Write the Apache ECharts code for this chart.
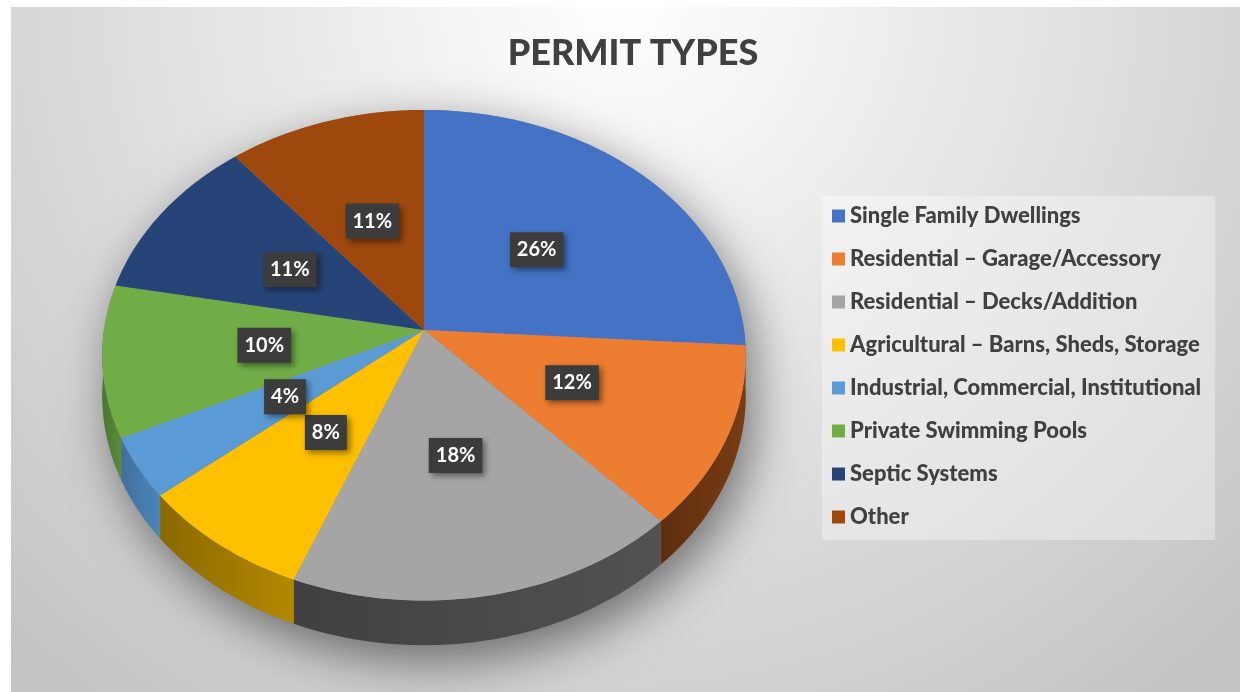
<!DOCTYPE html>
<html>
<head>
<meta charset="utf-8">
<script src="https://cdn.jsdelivr.net/npm/echarts@6/dist/echarts.min.js"></script>
<style>html,body{margin:0;padding:0;background:#fff}#c{width:1240px;height:692px}</style>
</head>
<body>
<div id="c"></div>
<script>
const categories = ['Single Family Dwellings','Residential – Garage/Accessory','Residential – Decks/Addition','Agricultural – Barns, Sheds, Storage','Industrial, Commercial, Institutional','Private Swimming Pools','Septic Systems','Other'];
const values = [26, 12, 18, 8, 4, 10, 11, 11];
const colors = ['#4472c4','#ed7d31','#a5a5a5','#ffc000','#5b9bd5','#70ad47','#264478','#9e480e'];
const sideLight = ['#3a64ad','#7a3c14','#525252','#b38800','#4d86ba','#5a8c39','#1f3a66','#7d3a0b'];
const sideDark  = ['#2f5597','#5e2e0e','#404040','#8a6900','#3f6f9c','#4a7630','#1a3055','#6e320a'];

const FONT = 'Lato, "Open Sans", sans-serif';
const total = values.reduce((a, b) => a + b, 0);
const starts = [];
let acc = 0;
values.forEach(v => { starts.push(acc / total); acc += v; });

// projection geometry (layout)
const CX = 424, CY = 330, RX = 320, RY = 242.7, P = 0.103, DEPTH = 40;
function proj(u, v, h) {
  const s = 1 / (1 - P * v);
  return [CX + RX * u * s, CY + (RY * v + DEPTH * h) * s];
}
function ang(phi, r, h) { return proj(r * Math.sin(phi), -r * Math.cos(phi), h); }
function arc(a, b, h, rev) {
  const n = Math.max(2, Math.ceil((b - a) / 0.02));
  const pts = [];
  for (let i = 0; i <= n; i++) {
    const t = a + (b - a) * i / n;
    pts.push(ang(t, 1, h));
  }
  return rev ? pts.reverse() : pts;
}

function renderItem(params, api) {
  const idx = params.seriesIndex;
  const a = api.value(0) * Math.PI * 2;
  const b = api.value(1) * Math.PI * 2;
  const children = [];
  if (idx === 0) {
    const pts = [];
    for (let i = 0; i <= 360; i++) {
      const t = i / 360 * Math.PI * 2;
      const v = -Math.cos(t);
      pts.push(ang(t, 1, v >= 0 ? 1 : 0));
    }
    children.push({
      type: 'polygon', z2: -5, shape: { points: pts },
      style: { fill: '#8a8a8a', shadowBlur: 50, shadowColor: 'rgba(0,0,0,0.5)', shadowOffsetX: 8, shadowOffsetY: 16 }
    });
  }
  const sa = Math.max(a, Math.PI / 2), sb = Math.min(b, Math.PI * 1.5);
  if (sb > sa) {
    const pts = arc(sa, sb, 0, false).concat(arc(sa, sb, 1, true));
    children.push({
      type: 'polygon', z2: 0, shape: { points: pts },
      style: { fill: new echarts.graphic.LinearGradient(1, 0, 0, 0, [
        { offset: 0, color: sideLight[idx] }, { offset: 1, color: sideDark[idx] }]) }
    });
  }
  const top = [proj(0, 0, 0)].concat(arc(a, b, 0, false));
  children.push({ type: 'polygon', z2: 10, shape: { points: top }, style: { fill: colors[idx] } });
  const mid = (a + b) / 2;
  const lp = ang(mid, 0.5, 0);
  const pct = Math.round(values[idx] / total * 100) + '%';
  children.push({
    type: 'text', z2: 20, x: lp[0], y: lp[1],
    style: {
      text: pct, fill: '#ffffff', font: 'bold 20px ' + FONT,
      align: 'center', verticalAlign: 'middle',
      backgroundColor: '#3c3c3c', padding: [8, 7, 7, 7],
      shadowBlur: 6, shadowColor: 'rgba(0,0,0,0.45)', shadowOffsetX: 3, shadowOffsetY: 3
    }
  });
  return { type: 'group', children };
}

const series = categories.map((name, i) => ({
  type: 'custom', name, coordinateSystem: 'none', renderItem,
  itemStyle: { color: colors[i] }, silent: true, animation: false,
  data: [[starts[i], starts[i] + values[i] / total]]
}));

const chart = echarts.init(document.getElementById('c'), null, { renderer: 'canvas' });
chart.setOption({
  backgroundColor: '#ffffff',
  animation: false,
  graphic: [{
    type: 'rect', z: -10, silent: true,
    shape: { x: 11, y: 7, width: 1229, height: 685 },
    style: { fill: new echarts.graphic.RadialGradient(620, 0, 900, [
      { offset: 0, color: '#ffffff' }, { offset: 1, color: '#c3c3c3' }], true) }
  }],
  title: {
    text: 'PERMIT TYPES', left: 628, top: 30, textAlign: 'center',
    textStyle: { fontFamily: FONT, fontWeight: 900, fontSize: 36, color: '#404040' }
  },
  legend: {
    orient: 'vertical', left: 822, top: 196, icon: 'rect',
    itemWidth: 13, itemHeight: 13, itemGap: 21,
    padding: [9, 14, 12, 10],
    backgroundColor: 'rgba(255,255,255,0.35)',
    selectedMode: false,
    textStyle: { fontFamily: FONT, fontWeight: 900, fontSize: 22, lineHeight: 22, color: '#404040', padding: [0, 0, 0, 0] },
    data: categories
  },
  series
});
</script>
</body>
</html>
